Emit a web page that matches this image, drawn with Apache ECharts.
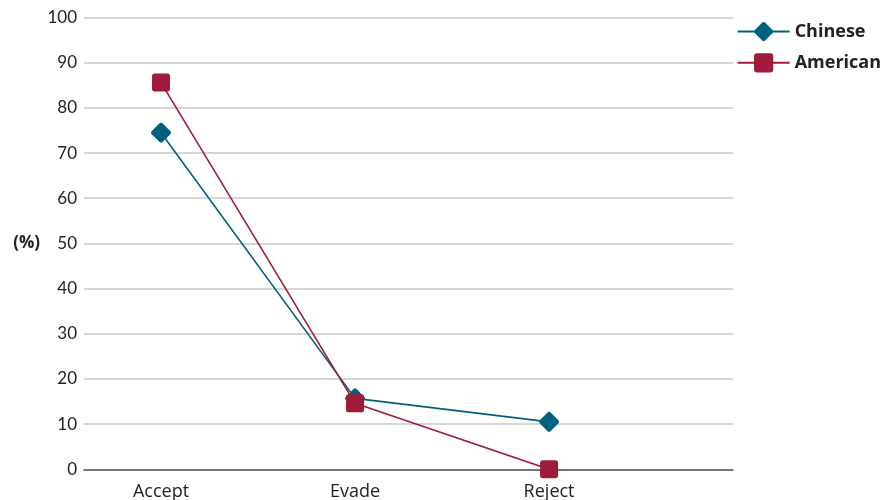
<!DOCTYPE html>
<html>
<head>
<meta charset="utf-8">
<script src="https://cdn.jsdelivr.net/npm/echarts@6/dist/echarts.min.js"></script>
<style>
  html, body { margin: 0; padding: 0; background: #fff; }
  #chart { width: 886px; height: 500px; }
</style>
</head>
<body>
<div id="chart"></div>
<script>
// Response categories and the share (%) of each group choosing them
const categories = ['Accept', 'Evade', 'Reject'];
const chinese = [74.5, 15.7, 10.5];
const american = [85.6, 14.6, 0];
const yTicks = [0, 10, 20, 30, 40, 50, 60, 70, 80, 90, 100];

const toPoints = vals => vals.map((v, i) => [i, v]);

const roundDiamond = 'path://M10,0.8 Q10.9,0.8 11.6,1.6 L18.4,8.4 Q19.2,9.1 19.2,10 Q19.2,10.9 18.4,11.6 L11.6,18.4 Q10.9,19.2 10,19.2 Q9.1,19.2 8.4,18.4 L1.6,11.6 Q0.8,10.9 0.8,10 Q0.8,9.1 1.6,8.4 L8.4,1.6 Q9.1,0.8 10,0.8 Z';
const roundSquare = 'path://M3,0 H17 Q20,0 20,3 V17 Q20,20 17,20 H3 Q0,20 0,17 V3 Q0,0 3,0 Z';

const chart = echarts.init(document.getElementById('chart'));
chart.setOption({
  animation: false,
  backgroundColor: '#fff',
  grid: { left: 84, right: 153, top: 17.5, bottom: 30.7, containLabel: false, outerBoundsMode: 'none' },
  legend: {
    right: 0, top: 17, orient: 'vertical',
    itemWidth: 52, itemHeight: 24, itemGap: 12,
    textStyle: { fontFamily: 'Open Sans', fontWeight: 'bold', fontSize: 18, color: '#222', padding: [0, 0, 0, 0] },
    data: ['Chinese', 'American']
  },
  xAxis: {
    type: 'value',
    min: -0.397, max: 2.948,
    splitLine: { show: false },
    axisLine: { show: true, onZero: false, lineStyle: { color: '#555', width: 1.5 } },
    axisTick: { show: false },
    axisLabel: {
      customValues: [0, 1, 2],
      formatter: v => categories[Math.round(v)],
      fontFamily: 'Open Sans', fontSize: 18, color: '#222', margin: 14
    }
  },
  yAxis: {
    type: 'value',
    min: 0, max: 100, interval: 10,
    name: '(%)', nameLocation: 'middle', nameRotate: 0, nameGap: 44,
    nameTextStyle: { fontFamily: 'Open Sans', fontSize: 17, color: '#222', fontWeight: 'bold' },
    axisLine: { show: false },
    axisTick: { show: false },
    axisLabel: {
      customValues: yTicks,
      fontFamily: 'Lato', fontSize: 17, color: '#222', margin: 7
    },
    splitLine: { lineStyle: { color: '#c8c8c8', width: 1.5 } }
  },
  series: [
    {
      name: 'Chinese', type: 'line',
      data: toPoints(chinese),
      symbol: roundDiamond, symbolSize: 20,
      itemStyle: { color: '#00617f' },
      lineStyle: { color: '#00617f', width: 1.6 },
      z: 3
    },
    {
      name: 'American', type: 'line',
      data: toPoints(american),
      symbol: roundSquare, symbolSize: 18,
      itemStyle: { color: '#9e1b3a' },
      lineStyle: { color: '#9e1b3a', width: 1.6 },
      z: 4
    }
  ]
});
</script>
</body>
</html>
